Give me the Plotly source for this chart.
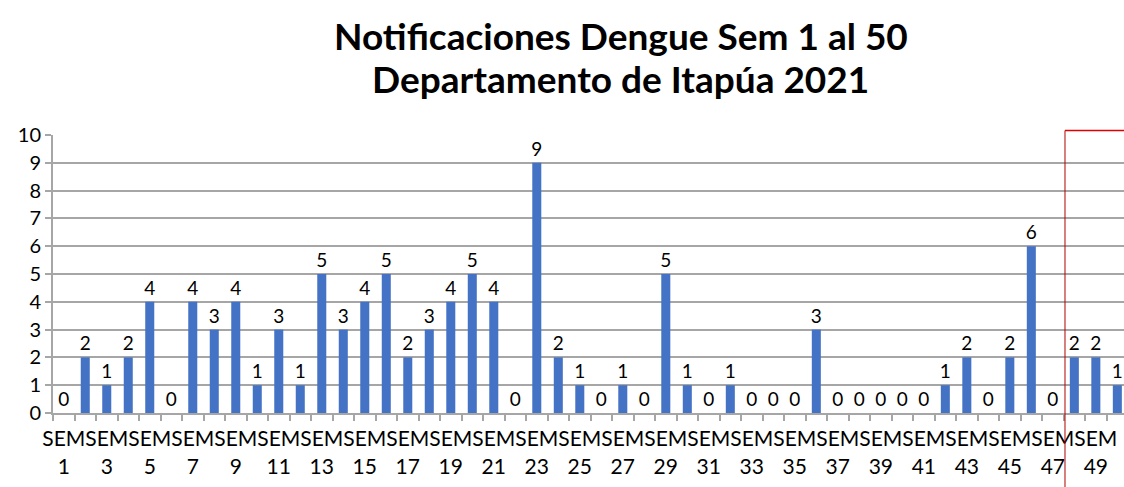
import plotly.graph_objects as go

weeks = list(range(1, 51))
cases = [0, 2, 1, 2, 4, 0, 4, 3, 4, 1,
         3, 1, 5, 3, 4, 5, 2, 3, 4, 5,
         4, 0, 9, 2, 1, 0, 1, 0, 5, 1,
         0, 1, 0, 0, 0, 3, 0, 0, 0, 0,
         0, 1, 2, 0, 2, 6, 0, 2, 2, 1]
tick_weeks = [w for w in weeks if w % 2 == 1]
tick_labels = [f"SEM<br>{w}" for w in tick_weeks]
title_lines = ["Notificaciones Dengue Sem 1 al 50", "Departamento de Itapúa 2021"]

FONT = "Lato"
fig = go.Figure()
fig.add_trace(go.Bar(
    x=weeks, y=cases,
    marker=dict(color="#4472C4", line=dict(width=0)),
    width=0.42,
    text=[str(v) for v in cases],
    textposition="outside",
    constraintext="none",
    textfont=dict(family=FONT, size=19, color="#000000"),
    cliponaxis=False,
    hoverinfo="x+y",
))

fig.update_layout(
    width=1124, height=487,
    margin=dict(l=53, r=0, t=135, b=74),
    paper_bgcolor="white", plot_bgcolor="white",
    showlegend=False,
    font=dict(family=FONT, size=20, color="#000000"),
)
for line, ypos in zip(title_lines, [1.3597, 1.205]):
    fig.add_annotation(text="<b>" + line + "</b>", xref="paper", yref="paper",
                       x=0.53, y=ypos, xanchor="center", yanchor="middle",
                       showarrow=False,
                       font=dict(family=FONT, size=37, color="#000000"))

fig.update_xaxes(
    range=[0.5, 50.31],
    tickmode="array", tickvals=tick_weeks, ticktext=tick_labels,
    tickangle=0, ticks="", showgrid=False, zeroline=False,
    ticklabelstandoff=6,
    showline=True, linecolor="#a6a6a6", linewidth=2,
    tickfont=dict(family=FONT, size=21, color="#000000"),
    minor=dict(tickmode="linear", tick0=0.5, dtick=1, ticks="outside",
               ticklen=6, tickwidth=1.5, tickcolor="#a6a6a6", showgrid=False),
)
fig.update_yaxes(
    range=[0, 10], tickmode="linear", tick0=0, dtick=1,
    showgrid=True, gridcolor="#a6a6a6", gridwidth=2,
    zeroline=False, showline=True, linecolor="#a6a6a6", linewidth=2,
    ticks="outside", ticklen=6, tickcolor="#a6a6a6", tickwidth=2,
    tickfont=dict(family=FONT, size=20, color="#000000"),
)

# red selection frame on the right
fig.add_shape(type="line", xref="paper", yref="paper",
              x0=0.9449, x1=0.9449, y0=1.016, y1=-0.3,
              line=dict(color="#B00000", width=1))
fig.add_shape(type="line", xref="paper", yref="paper",
              x0=0.9449, x1=1.01, y0=1.016, y1=1.016,
              line=dict(color="#E00000", width=1.5))

fig.write_html("out.html", config={"displayModeBar": False},
               post_script="document.body.style.margin='0';document.body.style.overflow='hidden';")
